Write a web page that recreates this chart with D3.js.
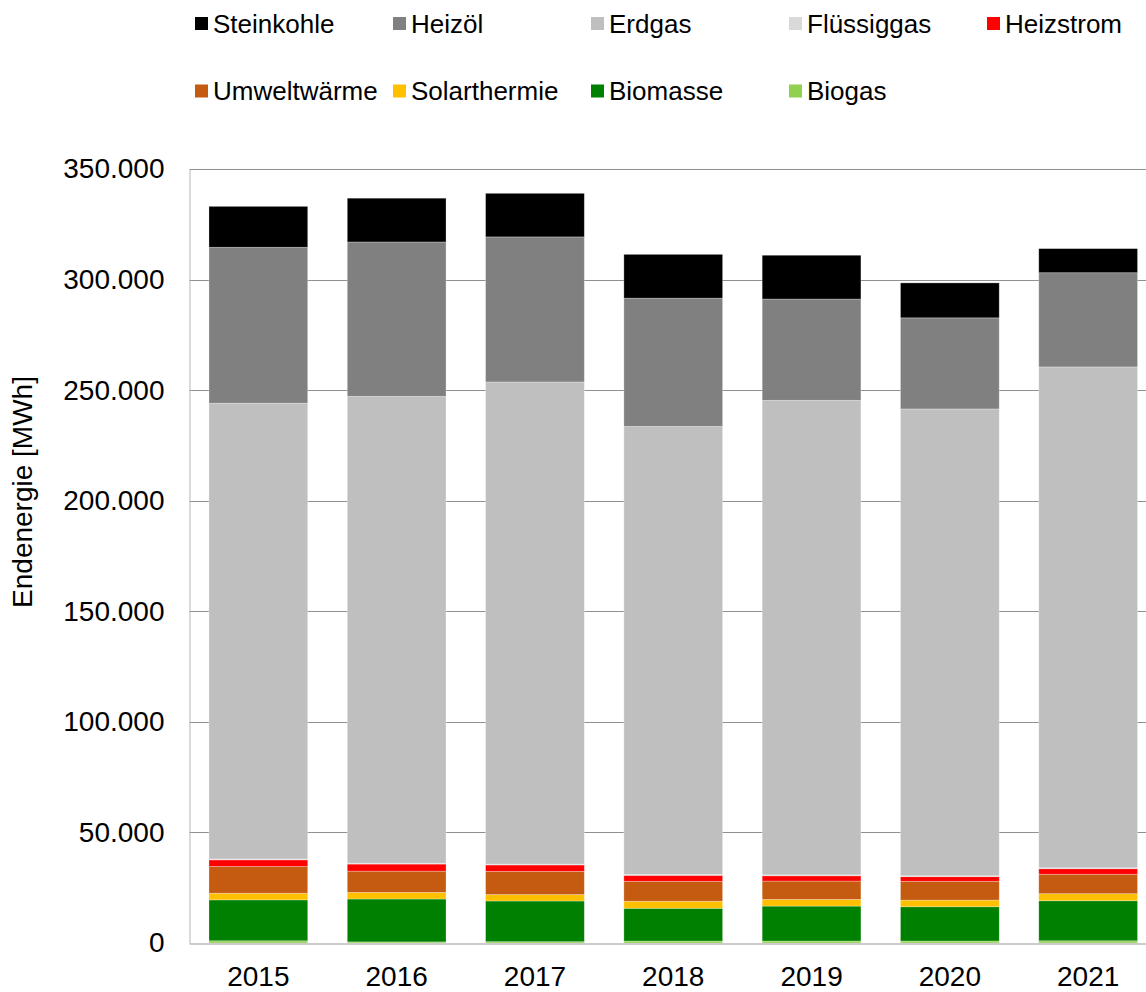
<!DOCTYPE html>
<html>
<head>
<meta charset="utf-8">
<script src="https://cdn.jsdelivr.net/npm/d3@7"></script>
<style>
  html, body { margin: 0; padding: 0; background: #fff; }
  svg { display: block; font-family: "Liberation Sans", Arial, sans-serif; }
</style>
</head>
<body>
<svg id="chart" width="1146" height="992"></svg>
<script>
// Endenergie nach Energieträger, 2015–2021 (MWh)
const years = ["2015", "2016", "2017", "2018", "2019", "2020", "2021"];

const steinkohle   = [18500, 19800, 19700, 19800, 19800, 15800, 10900];
const heizoel      = [70500, 69800, 65600, 58000, 45800, 41200, 42600];
const erdgas       = [206100, 211100, 218000, 202600, 214600, 211100, 226500];
const fluessiggas  = [400, 400, 400, 400, 400, 400, 400];
const heizstrom    = [3000, 3200, 2900, 2700, 2400, 2100, 2500];
const umweltwaerme = [12100, 9600, 10500, 9000, 8300, 8500, 8800];
const solarthermie = [3000, 3000, 2900, 3200, 3000, 3000, 3200];
const biomasse     = [18500, 19400, 18400, 14800, 15800, 15500, 18100];
const biogas       = [1000, 500, 600, 900, 900, 900, 1000];

const yTicks = [0, 50000, 100000, 150000, 200000, 250000, 300000, 350000];

// series listed bottom to top of the stack
const series = [
  { key: "Biogas",       values: biogas,       color: "#92d050" },
  { key: "Biomasse",     values: biomasse,     color: "#008000" },
  { key: "Solarthermie", values: solarthermie, color: "#ffc000" },
  { key: "Umweltwärme",  values: umweltwaerme, color: "#c55a11" },
  { key: "Heizstrom",    values: heizstrom,    color: "#ff0000" },
  { key: "Flüssiggas",   values: fluessiggas,  color: "#d9d9d9" },
  { key: "Erdgas",       values: erdgas,       color: "#bfbfbf" },
  { key: "Heizöl",       values: heizoel,      color: "#808080" },
  { key: "Steinkohle",   values: steinkohle,   color: "#000000" }
];

// legend order (row by row)
const legendRows = [
  ["Steinkohle", "Heizöl", "Erdgas", "Flüssiggas", "Heizstrom"],
  ["Umweltwärme", "Solarthermie", "Biomasse", "Biogas"]
];

const rows = years.map((y, i) => {
  const r = { year: y };
  series.forEach(s => r[s.key] = s.values[i]);
  return r;
});

const svg = d3.select("#chart");
const colorOf = new Map(series.map(s => [s.key, s.color]));

const x = d3.scaleBand()
  .domain(years)
  .range([189.2, 1157.3])
  .paddingInner(0.286)
  .paddingOuter(0.143);

const y = d3.scaleLinear()
  .domain([0, 350000])
  .range([943, 169]);

const de = d3.formatLocale({ decimal: ",", thousands: ".", grouping: [3], currency: ["", " €"] });
const fmt = de.format(",d");

// gridlines
svg.append("g")
  .selectAll("line")
  .data(yTicks.filter(t => t > 0))
  .join("line")
  .attr("x1", 189.5)
  .attr("x2", 1146)
  .attr("y1", d => Math.round(y(d)) + 0.5)
  .attr("y2", d => Math.round(y(d)) + 0.5)
  .attr("stroke", "#909090")
  .attr("stroke-width", 1);

// stacked bars
const stack = d3.stack().keys(series.map(s => s.key));
const layers = stack(rows);

svg.append("g")
  .selectAll("g")
  .data(layers)
  .join("g")
  .attr("fill", d => colorOf.get(d.key))
  .selectAll("rect")
  .data(d => d)
  .join("rect")
  .attr("x", d => x(d.data.year))
  .attr("width", x.bandwidth())
  .attr("y", d => y(d[1]))
  .attr("height", d => y(d[0]) - y(d[1]))
  .attr("stroke", "rgba(255,255,255,0.35)")
  .attr("stroke-width", 0.8);

// y axis
const yAxis = d3.axisLeft(y)
  .tickValues(yTicks)
  .tickFormat(fmt)
  .tickSize(0)
  .tickPadding(25);

const gy = svg.append("g")
  .attr("transform", "translate(189.5,0)")
  .call(yAxis);
gy.select(".domain").attr("stroke", "#b4b4b4").attr("stroke-width", 1);
gy.selectAll("text")
  .attr("font-size", 28)
  .attr("fill", "#000")
  .attr("font-family", "Liberation Sans, Arial, sans-serif");

// x axis
const xAxis = d3.axisBottom(x).tickSize(0).tickPadding(23);
const gx = svg.append("g")
  .attr("transform", "translate(0,943.5)")
  .call(xAxis);
gx.select(".domain").attr("stroke", "#9a9a9a").attr("stroke-width", 1.2);
gx.selectAll("text")
  .attr("font-size", 28)
  .attr("fill", "#000")
  .attr("font-family", "Liberation Sans, Arial, sans-serif");

// y axis title
svg.append("text")
  .attr("transform", "translate(22,492) rotate(-90)")
  .attr("text-anchor", "middle")
  .attr("dominant-baseline", "central")
  .attr("font-size", 28)
  .attr("fill", "#000")
  .text("Endenergie [MWh]");

// legend
const legendX0 = 195, legendStep = 198, legendY = [23.5, 91];
legendRows.forEach((row, ri) => {
  const g = svg.append("g");
  const items = g.selectAll("g")
    .data(row)
    .join("g")
    .attr("transform", (d, i) => `translate(${legendX0 + i * legendStep},${legendY[ri]})`);
  items.append("rect")
    .attr("x", 0)
    .attr("y", -6.5)
    .attr("width", 13)
    .attr("height", 13)
    .attr("fill", d => colorOf.get(d));
  items.append("text")
    .attr("x", 18)
    .attr("y", 0)
    .attr("dominant-baseline", "central")
    .attr("font-size", 26)
    .attr("fill", "#000")
    .text(d => d);
});
</script>
</body>
</html>
